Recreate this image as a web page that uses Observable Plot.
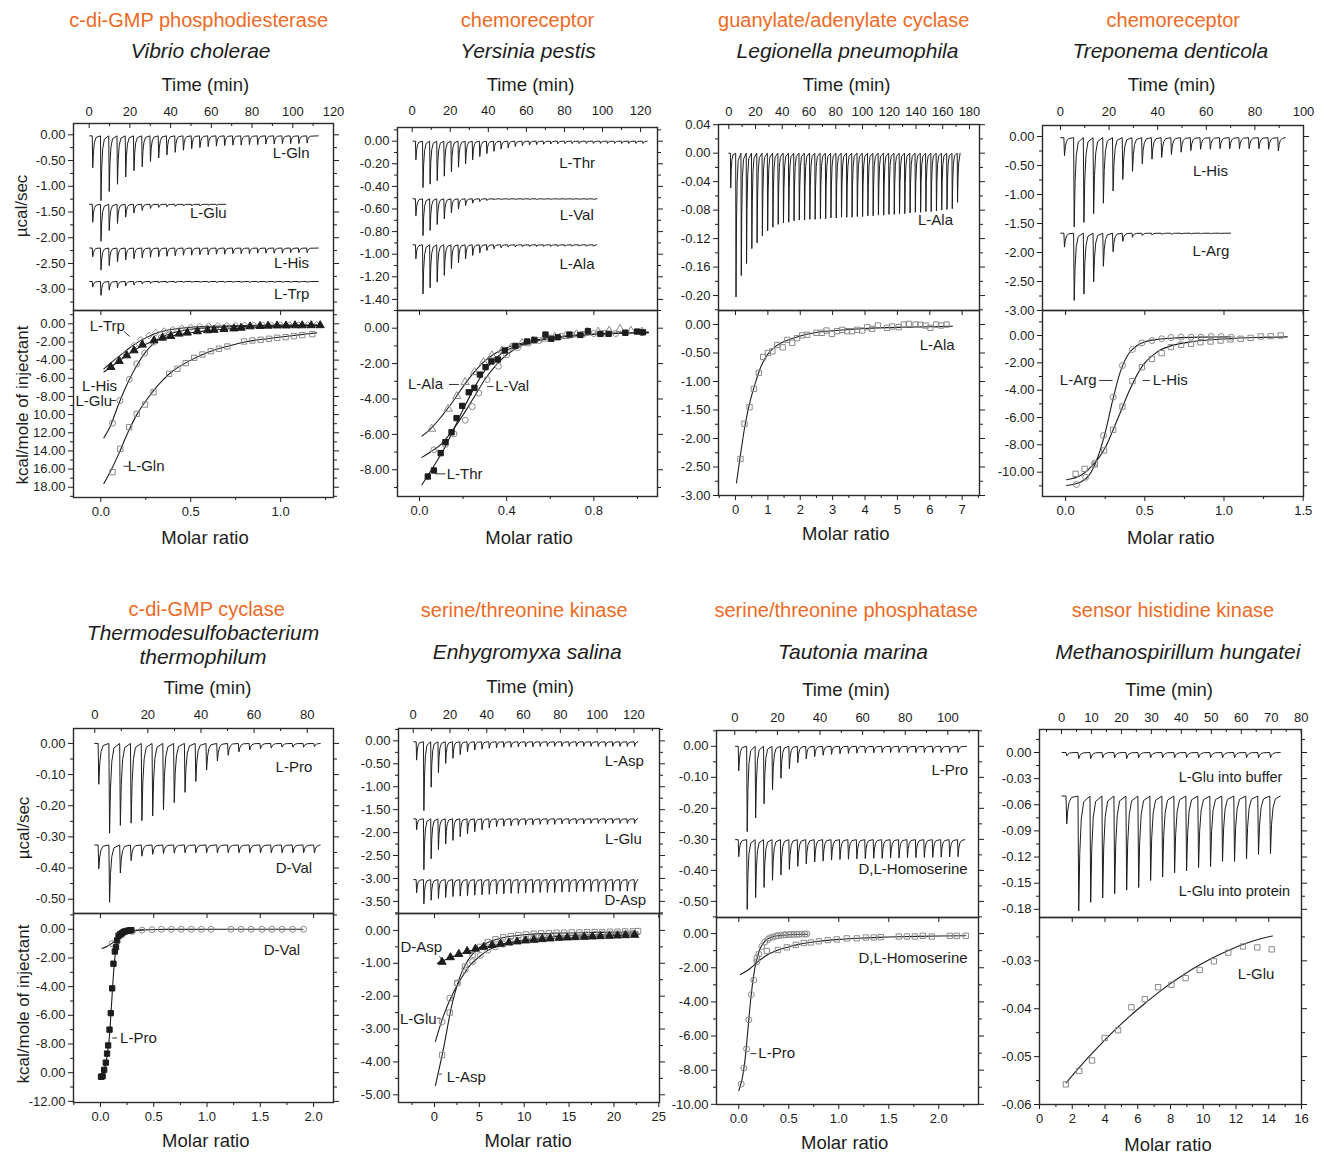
<!DOCTYPE html>
<html>
<head>
<meta charset="utf-8">
<script src="https://cdn.jsdelivr.net/npm/d3@7"></script>
<script src="https://cdn.jsdelivr.net/npm/@observablehq/plot@0.6"></script>
<style>
html,body{margin:0;padding:0;background:#fff;}
#root{position:relative;width:1326px;height:1155px;overflow:hidden;font-family:"Liberation Sans",Arial,Helvetica,sans-serif;color:#1d1d1d;}
.lbl{position:absolute;white-space:pre;text-align:center;transform:translate(-50%,-50%);line-height:1;}
.ttl{color:#EE6A24;font-size:20px;}
.sp{font-style:italic;font-size:21px;line-height:24px;}
.ax{font-size:18.5px;}
.yt{font-size:17px;transform:translate(-50%,-50%) rotate(-90deg);}
</style>
</head>
<body>
<div id="root"></div>
<script>
// ================= TEXT =================
const enzymes = ["c-di-GMP phosphodiesterase","chemoreceptor","guanylate/adenylate cyclase","chemoreceptor",
                 "c-di-GMP cyclase","serine/threonine kinase","serine/threonine phosphatase","sensor histidine kinase"];
const species = ["Vibrio cholerae","Yersinia pestis","Legionella pneumophila","Treponema denticola",
                 "Thermodesulfobacterium\nthermophilum","Enhygromyxa salina","Tautonia marina","Methanospirillum hungatei"];
const timeTitle = "Time (min)", molarTitle = "Molar ratio", powerTitle = "µcal/sec", heatTitle = "kcal/mole of injectant";

// ================= PANEL 1 : Vibrio cholerae =================
const p1TimeTicks = [0,20,40,60,80,100,120];
const p1PowerTicks = [0,-0.5,-1,-1.5,-2,-2.5,-3];
const p1MolarTicks = [0,0.5,1.0];
const p1HeatTicks = [0,-2,-4,-6,-8,-10,-12,-14,-16,-18];
const p1InjStart = 1.5, p1InjEvery = 4.05;
const p1GlnBase = -0.02, p1GlnEnd = 112.5;
const p1GlnPeaks = [0.62,1.26,1.08,0.94,0.80,0.68,0.60,0.50,0.43,0.37,0.32,0.28,0.25,0.23,0.21,0.20,0.19,0.18,0.18,0.17,0.17,0.16,0.16,0.15,0.15,0.15,0.14];
const p1GluBase = -1.35, p1GluEnd = 67;
const p1GluPeaks = [0.35,0.72,0.51,0.37,0.25,0.17,0.12,0.08,0.06,0.05,0.04,0.03,0.03,0.03,0.02,0.02];
const p1HisBase = -2.20, p1HisEnd = 112.5;
const p1HisPeaks = [0.17,0.43,0.34,0.27,0.23,0.21,0.19,0.18,0.17,0.16,0.15,0.14,0.14,0.13,0.13,0.12,0.12,0.11,0.11,0.11,0.10,0.10,0.10,0.10,0.09,0.09,0.09];
const p1TrpBase = -2.85, p1TrpEnd = 112.5;
const p1TrpPeaks = [0.11,0.27,0.17,0.12,0.09,0.07,0.05,0.04,0.03,0.03,0.03,0.02,0.02,0.02,0.02,0.02,0.02,0.02,0.02,0.02,0.02,0.02,0.02,0.02,0.02,0.02,0.02];
const p1GlnX = [0.065,0.108,0.158,0.2,0.246,0.293,0.380,0.426,0.472,0.519,0.565,0.611,0.657,0.704,0.796,0.843,0.889,0.935,0.981,1.028,1.074,1.120,1.176];
const p1GlnY = [-16.34,-13.77,-11.38,-9.92,-8.89,-7.53,-5.51,-4.96,-4.33,-3.75,-3.38,-3.01,-2.75,-2.50,-1.95,-1.84,-1.76,-1.65,-1.54,-1.47,-1.36,-1.25,-1.14];
const p1GlnFitX = [0.017,0.06,0.1,0.15,0.2,0.25,0.3,0.35,0.4,0.5,0.6,0.7,0.8,0.9,1.0,1.1,1.2];
const p1GlnFitY = [-17.6,-16.0,-14.3,-12.0,-10.0,-8.5,-7.2,-6.1,-5.2,-4.0,-3.1,-2.5,-2.0,-1.7,-1.45,-1.22,-1.0];
const p1GluX = [0.065,0.106,0.158,0.2,0.244,0.293,0.335,0.380];
const p1GluY = [-10.94,-8.45,-6.13,-4.41,-3.23,-2.02,-1.54,-1.21];
const p1GluFitX = [0.017,0.05,0.1,0.15,0.2,0.25,0.3,0.35,0.4,0.5,0.6,0.8,1.0,1.2];
const p1GluFitY = [-12.56,-11.4,-8.8,-6.5,-4.6,-3.1,-2.05,-1.4,-1.0,-0.6,-0.42,-0.28,-0.22,-0.18];
const p1HisX = [0.056,0.102,0.144,0.185,0.231,0.296,0.343,0.389,0.435,0.481,0.537,0.593,0.63,0.685,0.74,0.78,0.83,0.885,0.93,0.98,1.03,1.08,1.12,1.17,1.22];
const p1HisY = [-4.77,-4.11,-3.49,-2.94,-2.31,-1.84,-1.54,-1.36,-1.10,-0.99,-0.84,-0.73,-0.68,-0.6,-0.53,-0.45,-0.3,-0.25,-0.22,-0.2,-0.2,-0.18,-0.18,-0.17,-0.17];
const p1HisFitX = [0.017,0.06,0.1,0.15,0.2,0.25,0.3,0.35,0.4,0.5,0.6,0.7,0.8,0.9,1.0,1.1,1.22];
const p1HisFitY = [-5.3,-4.7,-4.1,-3.4,-2.75,-2.25,-1.85,-1.55,-1.3,-0.98,-0.75,-0.58,-0.45,-0.36,-0.3,-0.26,-0.22];
const p1TrpX = [0.1,0.139,0.185,0.222,0.269,0.306,0.352,0.40,0.45,0.5,0.55,0.6,0.65,0.7,0.75,0.8,0.85,0.9,0.95,1.0,1.05,1.1,1.15,1.2];
const p1TrpY = [-3.9,-3.3,-2.39,-1.76,-1.29,-0.99,-0.81,-0.62,-0.48,-0.38,-0.3,-0.25,-0.22,-0.2,-0.18,-0.17,-0.16,-0.15,-0.15,-0.14,-0.14,-0.13,-0.13,-0.12];
const p1TrpFitX = [0.017,0.05,0.1,0.15,0.2,0.25,0.3,0.35,0.4,0.5,0.6,0.8,1.0,1.2];
const p1TrpFitY = [-4.96,-4.4,-3.6,-2.8,-2.1,-1.55,-1.1,-0.8,-0.6,-0.38,-0.27,-0.18,-0.14,-0.12];

// ================= PANEL 2 : Yersinia pestis =================
const p2TimeTicks = [0,20,40,60,80,100,120];
const p2PowerTicks = [0,-0.2,-0.4,-0.6,-0.8,-1.0,-1.2,-1.4];
const p2MolarTicks = [0,0.4,0.8];
const p2HeatTicks = [0,-2,-4,-6,-8];
const p2InjStart = 1.7, p2InjEvery = 3.73;
const p2ThrBase = 0, p2ThrEnd = 123.5;
const p2ThrPeaks = [0.165,0.41,0.38,0.35,0.31,0.27,0.23,0.20,0.165,0.136,0.11,0.09,0.07,0.06,0.047,0.04,0.033,0.03,0.027,0.025,0.023,0.022,0.021,0.02,0.02,0.02,0.02,0.02,0.02,0.02,0.02,0.02,0.02];
const p2ValBase = -0.51, p2ValEnd = 97.2;
const p2ValPeaks = [0.15,0.325,0.28,0.227,0.177,0.124,0.088,0.059,0.038,0.024,0.015,0.01,0.008,0.007,0.007,0.006,0.006,0.006,0.006,0.006,0.006,0.006,0.006,0.006,0.006,0.006];
const p2AlaBase = -0.917, p2AlaEnd = 97;
const p2AlaPeaks = [0.124,0.434,0.38,0.33,0.27,0.21,0.16,0.124,0.094,0.071,0.05,0.035,0.027,0.02,0.018,0.016,0.015,0.015,0.014,0.014,0.014,0.013,0.013,0.013,0.013,0.013];
const p2ThrX = [0.038,0.066,0.097,0.119,0.147,0.170,0.196,0.226,0.252,0.277,0.303,0.330,0.359,0.391,0.440,0.494,0.527,0.578,0.605,0.634,0.688,0.738,0.773,0.830,0.868,0.944,0.998,1.025];
const p2ThrY = [-8.38,-8.04,-7.06,-6.44,-5.88,-5.08,-4.39,-3.62,-3.37,-2.62,-2.20,-1.88,-1.77,-1.26,-1.00,-0.75,-0.66,-0.36,-0.60,-0.51,-0.36,-0.38,-0.17,-0.32,-0.32,-0.26,-0.19,-0.23];
const p2ThrFitX = [0.011,0.05,0.1,0.15,0.2,0.25,0.3,0.35,0.4,0.5,0.6,0.7,0.8,0.9,1.05];
const p2ThrFitY = [-8.85,-8.1,-7.1,-5.9,-4.6,-3.4,-2.4,-1.7,-1.25,-0.8,-0.55,-0.42,-0.33,-0.28,-0.22];
const p2ValX = [0.066,0.119,0.158,0.21,0.242,0.272,0.31,0.362,0.4,0.45,0.5,0.55,0.6,0.65,0.7,0.75,0.8,0.85,0.9,0.95,1.02];
const p2ValY = [-6.87,-6.57,-5.97,-5.2,-4.43,-3.67,-2.9,-2.15,-1.5,-1.1,-0.85,-0.7,-0.55,-0.45,-0.38,-0.35,-0.3,-0.28,-0.3,-0.25,-0.25];
const p2ValFitX = [0.011,0.05,0.1,0.15,0.2,0.25,0.3,0.35,0.4,0.45,0.5,0.6,0.7,0.8,0.9,1.05];
const p2ValFitY = [-7.3,-7.0,-6.55,-5.8,-4.9,-3.9,-2.9,-2.1,-1.5,-1.1,-0.85,-0.58,-0.45,-0.36,-0.3,-0.25];
const p2AlaX = [0.056,0.132,0.171,0.209,0.252,0.294,0.332,0.378,0.42,0.47,0.52,0.57,0.62,0.67,0.72,0.77,0.82,0.87,0.92,0.97,1.02];
const p2AlaY = [-5.69,-4.56,-3.84,-3.05,-2.49,-1.92,-1.54,-1.26,-1.1,-0.85,-0.72,-0.6,-0.5,-0.45,-0.35,-0.2,-0.2,-0.15,-0.05,-0.15,-0.2];
const p2AlaFitX = [0.011,0.05,0.1,0.15,0.2,0.25,0.3,0.35,0.4,0.5,0.6,0.7,0.8,0.9,1.05];
const p2AlaFitY = [-6.1,-5.7,-5.0,-4.2,-3.3,-2.5,-1.85,-1.4,-1.1,-0.75,-0.55,-0.42,-0.35,-0.3,-0.25];

// ================= PANEL 3 : Legionella pneumophila =================
const p3TimeTicks = [0,20,40,60,80,100,120,140,160,180];
const p3PowerTicks = [0.04,0,-0.04,-0.08,-0.12,-0.16,-0.20];
const p3MolarTicks = [0,1,2,3,4,5,6,7];
const p3HeatTicks = [0,-0.5,-1,-1.5,-2,-2.5,-3];
const p3InjStart = 1.2, p3InjEvery = 3.945;
const p3AlaBase = 0, p3AlaEnd = 173;
const p3AlaPeaks = [0.049,0.202,0.172,0.155,0.134,0.126,0.116,0.109,0.104,0.100,0.098,0.097,0.095,0.094,0.094,0.093,0.093,0.092,0.092,0.091,0.091,0.090,0.090,0.090,0.089,0.089,0.088,0.088,0.087,0.087,0.086,0.086,0.085,0.085,0.084,0.083,0.083,0.082,0.082,0.081,0.080,0.079,0.078,0.069];
const p3AlaX = [0.154,0.278,0.433,0.566,0.72,0.855,1.0,1.14,1.29,1.46,1.60,1.75,1.90,2.06,2.21,2.50,2.67,2.81,2.98,3.14,3.30,3.45,3.60,3.76,3.91,4.07,4.22,4.40,4.68,4.84,5.04,5.20,5.35,5.56,5.71,5.87,6.02,6.20,6.35,6.52];
const p3AlaY = [-2.36,-1.74,-1.45,-1.13,-0.85,-0.57,-0.50,-0.47,-0.36,-0.40,-0.27,-0.32,-0.24,-0.19,-0.18,-0.146,-0.146,-0.105,-0.164,-0.117,-0.094,-0.117,-0.117,-0.094,-0.105,-0.047,-0.076,-0.018,-0.058,-0.035,-0.047,0,0.01,0,-0.006,-0.018,-0.058,0,-0.018,0];
const p3AlaFitX = [0.03,0.15,0.3,0.45,0.6,0.8,1.0,1.25,1.5,2.0,2.5,3.0,4.0,5.0,6.0,6.7];
const p3AlaFitY = [-2.78,-2.3,-1.75,-1.35,-1.05,-0.72,-0.52,-0.38,-0.3,-0.2,-0.14,-0.11,-0.07,-0.05,-0.04,-0.03];

// ================= PANEL 4 : Treponema denticola =================
const p4TimeTicks = [0,20,40,60,80,100];
const p4PowerTicks = [0,-0.5,-1,-1.5,-2,-2.5,-3];
const p4MolarTicks = [0,0.5,1.0,1.5];
const p4HeatTicks = [0,-2,-4,-6,-8,-10];
const p4InjStart = 1.4, p4InjEvery = 4.0;
const p4HisBase = -0.02, p4HisEnd = 92.5;
const p4HisPeaks = [0.31,1.54,1.46,1.31,1.13,0.92,0.72,0.58,0.45,0.37,0.34,0.29,0.25,0.22,0.20,0.20,0.19,0.19,0.19,0.19,0.19,0.20,0.23];
const p4ArgBase = -1.667, p4ArgEnd = 70;
const p4ArgPeaks = [0.24,1.16,1.05,0.84,0.57,0.32,0.14,0.07,0.04,0.03,0.02,0.02,0.015,0.015,0.01,0.01,0.01];
const p4ArgX = [0.068,0.127,0.184,0.239,0.300,0.359,0.422,0.482,0.545,0.606,0.665,0.729,0.792,0.855,0.919,0.982,1.046];
const p4ArgY = [-10.9,-10.37,-9.34,-7.32,-4.51,-2.20,-1.02,-0.54,-0.37,-0.24,-0.15,-0.12,-0.12,-0.12,-0.07,-0.07,-0.12];
const p4ArgFitX = [0.006,0.1,0.15,0.2,0.25,0.3,0.35,0.4,0.45,0.5,0.6,0.7,0.85,1.04];
const p4ArgFitY = [-10.98,-10.7,-10.2,-9.0,-7.1,-4.6,-2.5,-1.3,-0.75,-0.45,-0.25,-0.17,-0.12,-0.1];
const p4HisX = [0.063,0.120,0.184,0.243,0.300,0.359,0.422,0.482,0.545,0.606,0.665,0.729,0.792,0.851,0.915,0.978,1.041,1.105,1.168,1.232,1.295,1.358];
const p4HisY = [-10.12,-9.76,-9.44,-8.41,-6.90,-5.20,-3.34,-2.32,-1.71,-1.29,-0.85,-0.68,-0.61,-0.49,-0.44,-0.37,-0.29,-0.24,-0.17,-0.07,-0.05,0];
const p4HisFitX = [0.006,0.1,0.2,0.25,0.3,0.35,0.4,0.45,0.5,0.55,0.6,0.7,0.8,0.9,1.0,1.2,1.4];
const p4HisFitY = [-10.55,-10.2,-9.1,-8.2,-6.9,-5.5,-4.1,-2.9,-2.0,-1.45,-1.05,-0.65,-0.45,-0.33,-0.25,-0.15,-0.1];

// ================= PANEL 5 : Thermodesulfobacterium thermophilum =================
const p5TimeTicks = [0,20,40,60,80];
const p5PowerTicks = [0,-0.1,-0.2,-0.3,-0.4,-0.5];
const p5MolarTicks = [0,0.5,1.0,1.5,2.0];
const p5HeatTicks = [0,-2,-4,-6,-8,-10,-12];
const p5InjStart = 1.27, p5InjEvery = 4.06;
const p5ProBase = 0, p5ProEnd = 84.9;
const p5ProPeaks = [0.131,0.288,0.263,0.256,0.248,0.233,0.213,0.190,0.157,0.122,0.085,0.056,0.038,0.027,0.021,0.017,0.015,0.012,0.012,0.012,0.010];
const p5ValBase = -0.326, p5ValEnd = 84.9;
const p5ValPeaks = [0.077,0.184,0.09,0.05,0.036,0.03,0.027,0.026,0.025,0.025,0.025,0.025,0.025,0.025,0.025,0.025,0.025,0.025,0.025,0.025,0.025];
const p5ProX = [0.005,0.02,0.035,0.05,0.062,0.072,0.085,0.097,0.11,0.122,0.135,0.146,0.157,0.17,0.185,0.2,0.215,0.23,0.245,0.26,0.275,0.29];
const p5ProY = [-10.29,-10.25,-9.8,-9.3,-8.67,-8.1,-7.0,-5.85,-4.12,-2.4,-1.55,-1.25,-0.78,-0.45,-0.35,-0.28,-0.2,-0.15,-0.12,-0.1,-0.08,-0.06];
const p5ProFitX = [0.0,0.03,0.06,0.08,0.1,0.115,0.13,0.145,0.16,0.18,0.22,0.3,0.4];
const p5ProFitY = [-10.35,-9.95,-8.9,-7.8,-5.7,-3.9,-2.4,-1.4,-0.85,-0.5,-0.25,-0.1,-0.05];
const p5ValX = [0.109,0.2,0.3,0.39,0.484,0.572,0.666,0.759,0.853,0.947,1.038,1.225,1.319,1.413,1.516,1.609,1.703,1.803,1.906];
const p5ValY = [-1.0,-0.4,-0.15,-0.06,-0.03,0,0,0,0,0,0,0,0,0,0,0,0,0,0];
const p5ValFitX = [0.016,0.06,0.1,0.15,0.2,0.25,0.3,0.4,0.6,1.9];
const p5ValFitY = [-1.34,-1.2,-1.02,-0.75,-0.45,-0.25,-0.13,-0.04,-0.01,0];

// ================= PANEL 6 : Enhygromyxa salina =================
const p6TimeTicks = [0,20,40,60,80,100,120];
const p6PowerTicks = [0,-0.5,-1,-1.5,-2,-2.5,-3,-3.5];
const p6MolarTicks = [0,5,10,15,20,25];
const p6HeatTicks = [0,-1,-2,-3,-4,-5];
const p6InjStart = 1.6, p6InjEvery = 3.95;
const p6LAspBase = -0.02, p6LAspEnd = 122;
const p6LAspPeaks = [0.40,1.50,0.99,0.67,0.47,0.36,0.28,0.22,0.18,0.16,0.14,0.13,0.12,0.12,0.11,0.11,0.11,0.10,0.10,0.10,0.10,0.10,0.10,0.10,0.10,0.10,0.10,0.10,0.10,0.10,0.10];
const p6GluBase = -1.70, p6GluEnd = 122;
const p6GluPeaks = [0.24,1.11,0.87,0.67,0.55,0.47,0.39,0.33,0.28,0.24,0.20,0.17,0.16,0.15,0.14,0.13,0.13,0.12,0.12,0.12,0.11,0.11,0.11,0.11,0.10,0.10,0.10,0.10,0.10,0.10,0.10];
const p6DAspBase = -3.025, p6DAspEnd = 122;
const p6DAspPeaks = [0.29,0.53,0.45,0.41,0.39,0.37,0.36,0.35,0.34,0.33,0.32,0.31,0.31,0.30,0.30,0.29,0.29,0.28,0.28,0.28,0.27,0.27,0.27,0.26,0.26,0.26,0.26,0.25,0.25,0.25,0.25];
const p6DAspX = [0.85,1.78,2.71,3.64,4.57,5.5,6.43,7.36,8.29,9.22,10.15,11.08,12.0,12.9,13.9,14.8,15.7,16.7,17.6,18.5,19.5,20.4,21.3,22.3];
const p6DAspY = [-0.96,-0.82,-0.72,-0.63,-0.56,-0.50,-0.45,-0.41,-0.37,-0.34,-0.31,-0.29,-0.27,-0.25,-0.23,-0.22,-0.21,-0.20,-0.19,-0.18,-0.17,-0.16,-0.15,-0.14];
const p6DAspFitX = [0.3,2,4,6,8,10,13,16,20,22.8];
const p6DAspFitY = [-1.0,-0.8,-0.62,-0.49,-0.39,-0.32,-0.25,-0.2,-0.16,-0.13];
const p6LAspX = [0.85,1.7,2.55,3.4,4.25,5.1,5.95,6.8,7.65,8.5,9.35,10.2,11.05,11.9,12.75,13.6,14.45,15.3,16.15,17.0,17.85,18.7,19.55,20.4,21.25,22.1,22.7];
const p6LAspY = [-3.79,-2.5,-1.6,-1.1,-0.75,-0.5,-0.36,-0.27,-0.21,-0.17,-0.14,-0.12,-0.1,-0.09,-0.08,-0.07,-0.07,-0.06,-0.06,-0.05,-0.05,-0.05,-0.04,-0.04,-0.03,-0.03,-0.02];
const p6LAspFitX = [0.1,1,2,3,4,5,6,8,10,14,18,22.7];
const p6LAspFitY = [-4.72,-3.6,-2.2,-1.3,-0.8,-0.52,-0.36,-0.2,-0.13,-0.08,-0.06,-0.05];
const p6GluX = [0.85,1.7,2.55,3.4,4.25,5.1,5.95,6.8,7.65,8.5,9.35,10.2,11.05,11.9,12.75,13.6,14.45,15.3,16.15,17.0,17.85,18.7,19.55,20.4,21.25,22.1];
const p6GluY = [-2.78,-2.06,-1.6,-1.2,-0.95,-0.76,-0.6,-0.5,-0.42,-0.36,-0.31,-0.27,-0.24,-0.21,-0.19,-0.17,-0.16,-0.15,-0.14,-0.13,-0.12,-0.11,-0.11,-0.1,-0.1,-0.09];
const p6GluFitX = [0.1,1,2,3,4,5,6,8,10,14,18,22.7];
const p6GluFitY = [-3.38,-2.6,-1.95,-1.45,-1.05,-0.8,-0.6,-0.4,-0.29,-0.18,-0.13,-0.1];

// ================= PANEL 7 : Tautonia marina =================
const p7TimeTicks = [0,20,40,60,80,100];
const p7PowerTicks = [0,-0.1,-0.2,-0.3,-0.4,-0.5];
const p7MolarTicks = [0,0.5,1.0,1.5,2.0];
const p7HeatTicks = [0,-2,-4,-6,-8,-10];
const p7InjStart = 1.6, p7InjEvery = 3.96;
const p7ProBase = 0, p7ProEnd = 108.8;
const p7ProPeaks = [0.079,0.275,0.231,0.185,0.140,0.103,0.072,0.053,0.041,0.033,0.029,0.026,0.024,0.023,0.022,0.021,0.021,0.02,0.02,0.02,0.02,0.02,0.02,0.02,0.02,0.02,0.02];
const p7HseBase = -0.301, p7HseEnd = 108;
const p7HsePeaks = [0.055,0.225,0.187,0.154,0.131,0.114,0.096,0.086,0.078,0.072,0.069,0.066,0.064,0.063,0.062,0.061,0.06,0.06,0.059,0.059,0.058,0.058,0.057,0.057,0.056,0.056,0.055];
const p7ProX = [0.024,0.05,0.077,0.10,0.125,0.15,0.18,0.2,0.23,0.26,0.29,0.31,0.34,0.37,0.39,0.42,0.45,0.47,0.50,0.52,0.55,0.58,0.60,0.63,0.66,0.68];
const p7ProY = [-8.81,-7.88,-6.75,-5.05,-3.57,-2.72,-1.65,-1.2,-0.75,-0.5,-0.35,-0.25,-0.2,-0.15,-0.12,-0.1,-0.08,-0.07,-0.06,-0.05,-0.05,-0.04,-0.04,-0.03,-0.03,-0.02];
const p7ProFitX = [0,0.03,0.06,0.09,0.12,0.15,0.18,0.22,0.27,0.33,0.4,0.5,0.69];
const p7ProFitY = [-9.2,-8.6,-7.5,-5.7,-3.8,-2.4,-1.5,-0.8,-0.4,-0.2,-0.12,-0.07,-0.04];
const p7HseX = [0.18,0.28,0.39,0.48,0.57,0.65,0.72,0.80,0.89,0.98,1.08,1.18,1.27,1.35,1.42,1.6,1.68,1.76,1.84,1.93,2.11,2.18,2.27];
const p7HseY = [-1.45,-1.02,-0.96,-0.81,-0.66,-0.55,-0.52,-0.45,-0.38,-0.34,-0.28,-0.28,-0.23,-0.23,-0.21,-0.17,-0.17,-0.17,-0.13,-0.17,-0.13,-0.13,-0.13];
const p7HseFitX = [0.017,0.1,0.2,0.3,0.4,0.5,0.6,0.8,1.0,1.2,1.5,1.8,2.27];
const p7HseFitY = [-2.4,-2.1,-1.6,-1.2,-0.95,-0.78,-0.63,-0.45,-0.34,-0.27,-0.2,-0.16,-0.13];

// ================= PANEL 8 : Methanospirillum hungatei =================
const p8TimeTicks = [0,10,20,30,40,50,60,70,80];
const p8PowerTicks = [0,-0.03,-0.06,-0.09,-0.12,-0.15,-0.18];
const p8MolarTicks = [0,2,4,6,8,10,12,14,16];
const p8HeatTicks = [-0.03,-0.04,-0.05,-0.06];
const p8InjStart = 1.5, p8InjEvery = 4.0;
const p8BufBase = 0, p8BufEnd = 73;
const p8BufPeaks = [0.004,0.007,0.007,0.006,0.006,0.007,0.006,0.006,0.006,0.006,0.006,0.006,0.006,0.006,0.006,0.006,0.006,0.006];
const p8ProtBase = -0.05, p8ProtEnd = 73;
const p8ProtPeaks = [0.032,0.132,0.122,0.117,0.112,0.108,0.105,0.097,0.093,0.088,0.086,0.082,0.081,0.075,0.075,0.072,0.067,0.066];
const p8GluX = [1.61,2.43,3.21,3.98,4.80,5.61,6.43,7.24,8.06,8.92,9.78,10.65,11.53,12.43,13.30,14.18];
const p8GluY = [-0.0558,-0.0530,-0.0508,-0.0461,-0.0445,-0.0397,-0.0380,-0.0355,-0.0350,-0.0336,-0.0319,-0.0301,-0.0283,-0.0270,-0.0272,-0.0276];
const p8GluFitX = [1.63,2.5,3.5,4.5,5.5,6.5,7.5,8.5,9.5,10.5,11.5,12.5,13.5,14.22];
const p8GluFitY = [-0.0555,-0.0520,-0.0483,-0.0448,-0.0416,-0.0387,-0.0360,-0.0336,-0.0314,-0.0295,-0.0279,-0.0265,-0.0254,-0.0248];

// ================= HELPERS =================
const root = document.getElementById("root");
const ink = "#1d1d1d", grey = "#8a8a8a";
const pts = (xs, ys) => xs.map((x, i) => ({x, y: ys[i]}));
function trace(start, every, base, peaks, end) {
  const out = [{t: Math.max(0, start - 1.3), v: base}];
  peaks.forEach((d, i) => {
    const t = start + i * every;
    out.push({t, v: base}, {t: t + 0.25, v: base - d}, {t: t + 0.6, v: base - 0.5 * d},
             {t: t + 1.1, v: base - 0.2 * d}, {t: t + 1.9, v: base - 0.05 * d});
  });
  out.push({t: end, v: base});
  return out;
}
const traceLine = (data) => Plot.line(data, {x: "t", y: "v", stroke: ink, strokeWidth: 1});
const sym = (xs, ys, symbol, filled) => Plot.dot(pts(xs, ys), {x: "x", y: "y", symbol, r: 3,
  fill: filled ? ink : "none", stroke: filled ? ink : grey, strokeWidth: 1});
const fit = (xs, ys) => Plot.line(pts(xs, ys), {x: "x", y: "y", curve: "catmull-rom", stroke: ink, strokeWidth: 1.1});
const labels = (arr, size = 15, anchor = "middle") => Plot.text(arr, {x: "x", y: "y", text: "s", fontSize: size, fill: ink, textAnchor: anchor});
const leaders = (arr) => Plot.link(arr, {x1: "x1", y1: "y1", x2: "x2", y2: "y2", stroke: ink, strokeWidth: 0.9});
const f0 = d => String(d), f1 = d => d.toFixed(1), f2 = d => d.toFixed(2);
function mids(t) { const s = t[1] - t[0]; const o = []; for (let i = -1; i < t.length; i++) o.push(+(t[0] + s * (i + 0.5)).toFixed(6)); return o; }
function within(arr, dom) { const a = Math.min(...dom), b = Math.max(...dom); return arr.filter(v => v >= a - 1e-9 && v <= b + 1e-9); }

function addText(txt, x, y, cls) {
  const d = document.createElement("div");
  d.className = "lbl " + cls; d.textContent = txt;
  d.style.left = x + "px"; d.style.top = y + "px";
  root.appendChild(d);
}

function sub(o) {
  const mL = 80, mR = 24, mT = 40, mB = 40;
  const w = o.x1 - o.x0, h = o.y1 - o.y0;
  const xT = within(o.xTicks, o.xDomain), xm = within(mids(o.xTicks), o.xDomain);
  const yT = within(o.yTicks, o.yDomain), ym = within(mids(o.yTicks), o.yDomain);
  const marks = [];
  if (o.top) {
    marks.push(Plot.axisX({anchor: "top", ticks: xT, tickSize: 0, tickPadding: o.pad, tickFormat: o.xFmt, label: null}));
    marks.push(Plot.ruleX(xT, {insetBottom: h - 5, stroke: ink}));
    marks.push(Plot.ruleX(xm, {insetBottom: h - 3, stroke: ink}));
  } else {
    marks.push(Plot.axisX({anchor: "bottom", ticks: xT, tickSize: 5, tickPadding: 4, tickFormat: o.xFmt, label: null}));
    marks.push(Plot.axisX({anchor: "bottom", ticks: xm, tickSize: 3, tickFormat: () => "", label: null}));
    marks.push(Plot.ruleX(xT, {insetBottom: h - 5, stroke: ink}));
  }
  marks.push(Plot.axisY({anchor: "left", ticks: yT, tickSize: 5, tickPadding: 3, tickFormat: o.yFmt, label: null}));
  marks.push(Plot.axisY({anchor: "left", ticks: ym, tickSize: 3, tickFormat: () => "", label: null}));
  marks.push(Plot.axisY({anchor: "right", ticks: yT, tickSize: 5, tickFormat: () => "", label: null}));
  marks.push(Plot.axisY({anchor: "right", ticks: ym, tickSize: 3, tickFormat: () => "", label: null}));
  marks.push(...o.marks);
  marks.push(Plot.frame({stroke: "#2b2b2b", strokeWidth: 1.4}));
  const svg = Plot.plot({
    width: w + mL + mR, height: h + mT + mB,
    marginLeft: mL, marginRight: mR, marginTop: mT, marginBottom: mB,
    x: {domain: o.xDomain}, y: {domain: o.yDomain},
    style: {background: "transparent", fontFamily: "'Liberation Sans', Arial, sans-serif", fontSize: "13px", color: ink, overflow: "visible"},
    marks
  });
  svg.style.position = "absolute";
  svg.style.left = (o.x0 - mL) + "px";
  svg.style.top = (o.y0 - mT) + "px";
  svg.style.maxWidth = "none";
  root.appendChild(svg);
}

// ================= LAYOUT =================
const layout = [
  {x0:73,  x1:333,  yT:123, yM:310, yB:497,  pad:8,   title:[198.7,20], sp:[200.7,50.5], time:[205.3,85], molar:[205,538]},
  {x0:397, x1:657,  yT:127, yM:310, yB:496,  pad:13,  title:[527.5,20], sp:[528,50.5],   time:[530.5,85], molar:[529,538]},
  {x0:718, x1:979,  yT:124, yM:310, yB:495,  pad:9,   title:[843.7,20], sp:[847.5,50.5], time:[846.7,85], molar:[845.8,534]},
  {x0:1042,x1:1303, yT:125, yM:310, yB:496,  pad:10,  title:[1173.3,20],sp:[1170.3,50.5],time:[1171.7,85],molar:[1170.8,538]},
  {x0:73,  x1:333,  yT:728, yM:913, yB:1102, pad:9.7, title:[206.7,609],sp:[203,644.5],  time:[207.5,688],molar:[205.8,1140.5]},
  {x0:398, x1:659,  yT:728, yM:913, yB:1102, pad:9.7, title:[524.2,610],sp:[527.2,652.3],time:[530.2,687],molar:[528.2,1140.5]},
  {x0:716, x1:978,  yT:730, yM:917, yB:1104, pad:8.5, title:[846.2,610],sp:[853,652.3],  time:[846,689.6],molar:[844.7,1143]},
  {x0:1039,x1:1301, yT:729, yM:917, yB:1104, pad:7.5, title:[1173,610], sp:[1177.8,652.3],time:[1169.2,690.4],molar:[1168,1145]}
];
layout.forEach((L, i) => {
  addText(enzymes[i], L.title[0], L.title[1], "ttl");
  addText(species[i], L.sp[0], L.sp[1], "sp");
  addText(timeTitle, L.time[0], L.time[1], "ax");
  addText(molarTitle, L.molar[0], L.molar[1], "ax");
});
addText(powerTitle, 21, 206, "yt");
addText(heatTitle, 21.7, 405, "yt");
addText(powerTitle, 22.5, 828, "yt");
addText(heatTitle, 22.5, 1004, "yt");

function panel(i, top, bottom) {
  const L = layout[i];
  sub(Object.assign({x0: L.x0, x1: L.x1, y0: L.yT, y1: L.yM, top: true, pad: L.pad, xFmt: f0}, top));
  sub(Object.assign({x0: L.x0, x1: L.x1, y0: L.yM, y1: L.yB, top: false}, bottom));
}

// ---- Panel 1
panel(0, {
  xDomain: [-7.7, 120], yDomain: [-3.414, 0.22], xTicks: p1TimeTicks, yTicks: p1PowerTicks, yFmt: f2,
  marks: [
    traceLine(trace(p1InjStart, p1InjEvery, p1GlnBase, p1GlnPeaks, p1GlnEnd)),
    traceLine(trace(p1InjStart, p1InjEvery, p1GluBase, p1GluPeaks, p1GluEnd)),
    traceLine(trace(p1InjStart, p1InjEvery, p1HisBase, p1HisPeaks, p1HisEnd)),
    traceLine(trace(p1InjStart, p1InjEvery, p1TrpBase, p1TrpPeaks, p1TrpEnd)),
    labels([{x:99.2,y:-0.35,s:"L-Gln"},{x:58.5,y:-1.53,s:"L-Glu"},{x:99.4,y:-2.49,s:"L-His"},{x:99.5,y:-3.10,s:"L-Trp"}])
  ]
}, {
  xDomain: [-0.152, 1.294], yDomain: [-19.13, 1.465], xTicks: p1MolarTicks, yTicks: p1HeatTicks, xFmt: f1,
  yFmt: d => d <= -10 ? (-d).toFixed(2) : d.toFixed(2),
  marks: [
    fit(p1GlnFitX, p1GlnFitY), fit(p1GluFitX, p1GluFitY), fit(p1HisFitX, p1HisFitY), fit(p1TrpFitX, p1TrpFitY),
    sym(p1GlnX, p1GlnY, "square", false), sym(p1GluX, p1GluY, "circle", false),
    sym(p1TrpX, p1TrpY, "diamond2", false), sym(p1HisX, p1HisY, "triangle", true),
    leaders([{x1:0.128,y1:-0.81,x2:0.16,y2:-1.4},{x1:0.056,y1:-8.45,x2:0.083,y2:-8.45},{x1:0.126,y1:-15.69,x2:0.157,y2:-15.69}]),
    labels([{x:0.036,y:-0.3,s:"L-Trp"},{x:-0.007,y:-6.88,s:"L-His"},{x:-0.039,y:-8.54,s:"L-Glu"},{x:0.252,y:-15.69,s:"L-Gln"}])
  ]
});

// ---- Panel 2
panel(1, {
  xDomain: [-7.72, 128.9], yDomain: [-1.498, 0.121], xTicks: p2TimeTicks, yTicks: p2PowerTicks, yFmt: f2,
  marks: [
    traceLine(trace(p2InjStart, p2InjEvery, p2ThrBase, p2ThrPeaks, p2ThrEnd)),
    traceLine(trace(p2InjStart, p2InjEvery, p2ValBase, p2ValPeaks, p2ValEnd)),
    traceLine(trace(p2InjStart, p2InjEvery, p2AlaBase, p2AlaPeaks, p2AlaEnd)),
    labels([{x:86.7,y:-0.191,s:"L-Thr"},{x:86.5,y:-0.658,s:"L-Val"},{x:86.6,y:-1.085,s:"L-Ala"}])
  ]
}, {
  xDomain: [-0.101, 1.092], yDomain: [-9.51, 1.0], xTicks: p2MolarTicks, yTicks: p2HeatTicks, xFmt: f1, yFmt: f2,
  marks: [
    fit(p2ThrFitX, p2ThrFitY), fit(p2ValFitX, p2ValFitY), fit(p2AlaFitX, p2AlaFitY),
    sym(p2AlaX, p2AlaY, "triangle", false), sym(p2ValX, p2ValY, "circle", false), sym(p2ThrX, p2ThrY, "square", true),
    leaders([{x1:0.135,y1:-3.18,x2:0.181,y2:-3.18},{x1:0.31,y1:-3.3,x2:0.34,y2:-3.3},{x1:0.073,y1:-8.23,x2:0.119,y2:-8.23}]),
    labels([{x:0.0275,y:-3.18,s:"L-Ala"},{x:0.425,y:-3.3,s:"L-Val"},{x:0.207,y:-8.23,s:"L-Thr"}])
  ]
});

// ---- Panel 3
panel(2, {
  xDomain: [-7.7, 187.5], yDomain: [-0.221, 0.0403], xTicks: p3TimeTicks, yTicks: p3PowerTicks, yFmt: f2,
  marks: [
    traceLine(trace(p3InjStart, p3InjEvery, p3AlaBase, p3AlaPeaks, p3AlaEnd)),
    labels([{x:154.6,y:-0.0946,s:"L-Ala"}])
  ]
}, {
  xDomain: [-0.525, 7.536], yDomain: [-3.0, 0.246], xTicks: p3MolarTicks, yTicks: p3HeatTicks, xFmt: f0, yFmt: f2,
  marks: [
    fit(p3AlaFitX, p3AlaFitY), sym(p3AlaX, p3AlaY, "square", false),
    labels([{x:6.23,y:-0.368,s:"L-Ala"}])
  ]
});

// ---- Panel 4
panel(3, {
  xDomain: [-7.4, 100], yDomain: [-3.0, 0.19], xTicks: p4TimeTicks, yTicks: p4PowerTicks, yFmt: f2,
  marks: [
    traceLine(trace(p4InjStart, p4InjEvery, p4HisBase, p4HisPeaks, p4HisEnd)),
    traceLine(trace(p4InjStart, p4InjEvery, p4ArgBase, p4ArgPeaks, p4ArgEnd)),
    labels([{x:61.7,y:-0.598,s:"L-His"},{x:61.9,y:-1.978,s:"L-Arg"}])
  ]
}, {
  xDomain: [-0.146, 1.502], yDomain: [-11.78, 1.83], xTicks: p4MolarTicks, yTicks: p4HeatTicks, xFmt: f1, yFmt: f2,
  marks: [
    fit(p4ArgFitX, p4ArgFitY), fit(p4HisFitX, p4HisFitY),
    sym(p4ArgX, p4ArgY, "circle", false), sym(p4HisX, p4HisY, "square", false),
    leaders([{x1:0.211,y1:-3.29,x2:0.296,y2:-3.29},{x1:0.486,y1:-3.29,x2:0.532,y2:-3.29}]),
    labels([{x:0.079,y:-3.29,s:"L-Arg"},{x:0.661,y:-3.29,s:"L-His"}])
  ]
});

// ---- Panel 5
panel(4, {
  xDomain: [-8.0, 89.9], yDomain: [-0.546, 0.048], xTicks: p5TimeTicks, yTicks: p5PowerTicks, yFmt: f2,
  marks: [
    traceLine(trace(p5InjStart, p5InjEvery, p5ProBase, p5ProPeaks, p5ProEnd)),
    traceLine(trace(p5InjStart, p5InjEvery, p5ValBase, p5ValPeaks, p5ValEnd)),
    labels([{x:75,y:-0.0756,s:"L-Pro"},{x:75,y:-0.402,s:"D-Val"}])
  ]
}, {
  xDomain: [-0.253, 2.187], yDomain: [-12.08, 1.10], xTicks: p5MolarTicks, yTicks: p5HeatTicks, xFmt: f1,
  yFmt: d => d === -10 ? "0.00" : d.toFixed(2),
  marks: [
    fit(p5ValFitX, p5ValFitY), fit(p5ProFitX, p5ProFitY),
    sym(p5ValX, p5ValY, "circle", false), sym(p5ProX, p5ProY, "square", true),
    leaders([{x1:0.11,y1:-7.58,x2:0.156,y2:-7.58}]),
    labels([{x:1.703,y:-1.47,s:"D-Val"},{x:0.356,y:-7.58,s:"L-Pro"}])
  ]
});

// ---- Panel 6
panel(5, {
  xDomain: [-8.0, 133.9], yDomain: [-3.764, 0.27], xTicks: p6TimeTicks, yTicks: p6PowerTicks, yFmt: f2,
  marks: [
    traceLine(trace(p6InjStart, p6InjEvery, p6LAspBase, p6LAspPeaks, p6LAspEnd)),
    traceLine(trace(p6InjStart, p6InjEvery, p6GluBase, p6GluPeaks, p6GluEnd)),
    traceLine(trace(p6InjStart, p6InjEvery, p6DAspBase, p6DAspPeaks, p6DAspEnd)),
    labels([{x:114.8,y:-0.452,s:"L-Asp"},{x:114.3,y:-2.14,s:"L-Glu"},{x:115.3,y:-3.476,s:"D-Asp"}])
  ]
}, {
  xDomain: [-4.01, 25.08], yDomain: [-5.234, 0.514], xTicks: p6MolarTicks, yTicks: p6HeatTicks, xFmt: f0, yFmt: f2,
  marks: [
    fit(p6DAspFitX, p6DAspFitY), fit(p6LAspFitX, p6LAspFitY), fit(p6GluFitX, p6GluFitY),
    sym(p6LAspX, p6LAspY, "square", false), sym(p6GluX, p6GluY, "circle", false), sym(p6DAspX, p6DAspY, "triangle", true),
    leaders([{x1:0.56,y1:-0.79,x2:1.04,y2:-0.96},{x1:0.3,y1:-2.67,x2:0.67,y2:-2.67},{x1:0.52,y1:-4.37,x2:0.82,y2:-4.37}]),
    labels([{x:-1.47,y:-0.518,s:"D-Asp"},{x:-1.8,y:-2.69,s:"L-Glu"},{x:3.55,y:-4.46,s:"L-Asp"}])
  ]
});

// ---- Panel 7
panel(6, {
  xDomain: [-8.6, 114.4], yDomain: [-0.552, 0.051], xTicks: p7TimeTicks, yTicks: p7PowerTicks, yFmt: f2,
  marks: [
    traceLine(trace(p7InjStart, p7InjEvery, p7ProBase, p7ProPeaks, p7ProEnd)),
    traceLine(trace(p7InjStart, p7InjEvery, p7HseBase, p7HsePeaks, p7HseEnd)),
    labels([{x:100.9,y:-0.076,s:"L-Pro"},{x:83.7,y:-0.397,s:"D,L-Homoserine"}])
  ]
}, {
  xDomain: [-0.223, 2.397], yDomain: [-10.01, 0.943], xTicks: p7MolarTicks, yTicks: p7HeatTicks, xFmt: f1, yFmt: f2,
  marks: [
    fit(p7HseFitX, p7HseFitY), fit(p7ProFitX, p7ProFitY),
    sym(p7HseX, p7HseY, "square", false), sym(p7ProX, p7ProY, "circle", false),
    leaders([{x1:0.117,y1:-7.03,x2:0.177,y2:-7.03}]),
    labels([{x:1.742,y:-1.44,s:"D,L-Homoserine"},{x:0.379,y:-7.03,s:"L-Pro"}])
  ]
});

// ---- Panel 8
panel(7, {
  xDomain: [-7.34, 80.1], yDomain: [-0.1894, 0.0264], xTicks: p8TimeTicks, yTicks: p8PowerTicks, yFmt: f2,
  marks: [
    traceLine(trace(p8InjStart, p8InjEvery, p8BufBase, p8BufPeaks, p8BufEnd)),
    traceLine(trace(p8InjStart, p8InjEvery, p8ProtBase, p8ProtPeaks, p8ProtEnd)),
    labels([{x:56.4,y:-0.0283,s:"L-Glu into buffer"},{x:57.7,y:-0.159,s:"L-Glu into protein"}], 14.5)
  ]
}, {
  xDomain: [0, 16], yDomain: [-0.06, -0.02095], xTicks: p8MolarTicks, yTicks: p8HeatTicks, xFmt: f0, yFmt: f2,
  marks: [
    fit(p8GluFitX, p8GluFitY), sym(p8GluX, p8GluY, "square", false),
    labels([{x:13.22,y:-0.0327,s:"L-Glu"}])
  ]
});
</script>
</body>
</html>
